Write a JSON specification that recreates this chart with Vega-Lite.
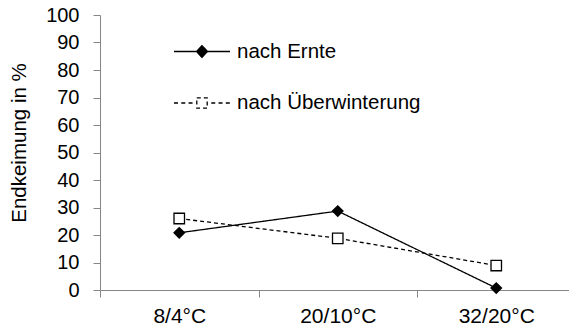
{
  "$schema": "https://vega.github.io/schema/vega-lite/v6.json",
  "width": 469,
  "height": 275,
  "autosize": {"type": "none"},
  "padding": {"left": 100, "top": 15, "right": 0, "bottom": 39},
  "background": "white",
  "config": {
    "view": {"stroke": null},
    "font": "Liberation Sans",
    "axis": {
      "domainColor": "#868686",
      "tickColor": "#868686",
      "labelColor": "black",
      "titleColor": "black",
      "labelFont": "Liberation Sans",
      "titleFont": "Liberation Sans",
      "grid": false,
      "tickSize": 7
    }
  },
  "data": {
    "values": [
      {"temp": "8/4°C", "series": "nach Ernte", "value": 20.8},
      {"temp": "20/10°C", "series": "nach Ernte", "value": 28.7},
      {"temp": "32/20°C", "series": "nach Ernte", "value": 0.7},
      {"temp": "8/4°C", "series": "nach Überwinterung", "value": 26.0},
      {"temp": "20/10°C", "series": "nach Überwinterung", "value": 18.8},
      {"temp": "32/20°C", "series": "nach Überwinterung", "value": 8.9}
    ]
  },
  "encoding": {
    "x": {
      "field": "temp",
      "type": "nominal",
      "sort": ["8/4°C", "20/10°C", "32/20°C"],
      "scale": {"type": "band", "paddingInner": 0, "paddingOuter": 0, "range": [0, 475.5]},
      "axis": {
        "title": null,
        "labelAngle": 0,
        "labelFontSize": 21,
        "labelPadding": 8,
        "tickBand": "extent"
      }
    },
    "y": {
      "field": "value",
      "type": "quantitative",
      "scale": {"domain": [0, 100], "nice": false},
      "axis": {
        "title": "Endkeimung in %",
        "titleColor": "#000000",
        "titleFontSize": 20.5,
        "titleFontWeight": "normal",
        "titlePadding": 16,
        "titleY": 127.5,
        "values": [0, 10, 20, 30, 40, 50, 60, 70, 80, 90, 100],
        "labelFontSize": 20,
        "labelPadding": 14
      }
    }
  },
  "resolve": {"legend": {"strokeDash": "independent", "shape": "independent", "fill": "independent"}},
  "layer": [
    {
      "mark": {"type": "line", "color": "black", "strokeWidth": 1.3},
      "encoding": {
        "strokeDash": {
          "field": "series",
          "type": "nominal",
          "scale": {"domain": ["nach Ernte", "nach Überwinterung"], "range": [[1, 0], [4, 3]]},
          "legend": {
            "orient": "none",
            "legendX": 73,
            "legendY": 7.5,
            "title": null,
            "padding": 0,
            "direction": "vertical",
            "symbolSize": 3136,
            "symbolStrokeColor": "black",
            "symbolStrokeWidth": 1.3,
            "labelFont": "Liberation Sans",
            "labelFontSize": 20.5,
            "labelColor": "black",
            "labelOffset": 6,
            "labelLimit": 400,
            "rowPadding": 11.5,
            "encode": {
              "symbols": {
                "update": {
                  "shape": {"signal": "datum.value === 'nach Ernte' ? 'M-1,0L1,0M0,-0.21L0.196,0L0,0.21L-0.196,0Z' : 'M-1,0H-0.85M-0.74,0H-0.59M-0.48,0H-0.33M0.33,0H0.48M0.59,0H0.74M0.85,0H1M-0.186,-0.186H0.186V0.186H-0.186Z'"},
                  "fill": {"signal": "datum.value === 'nach Ernte' ? 'black' : 'white'"},
                  "stroke": {"value": "black"},
                  "strokeWidth": {"value": 1.3},
                  "strokeDash": {"value": [1, 0]},
                  "opacity": {"value": 1}
                }
              }
            }
          }
        }
      }
    },
    {
      "mark": {"type": "point", "stroke": "black", "strokeWidth": 1.3, "opacity": 1, "fillOpacity": 1, "size": 110},
      "encoding": {
        "shape": {
          "field": "series",
          "type": "nominal",
          "scale": {"domain": ["nach Ernte", "nach Überwinterung"], "range": ["diamond", "square"]},
          "legend": null
        },
        "fill": {
          "field": "series",
          "type": "nominal",
          "scale": {"domain": ["nach Ernte", "nach Überwinterung"], "range": ["black", "white"]},
          "legend": null
        }
      }
    }
  ]
}
